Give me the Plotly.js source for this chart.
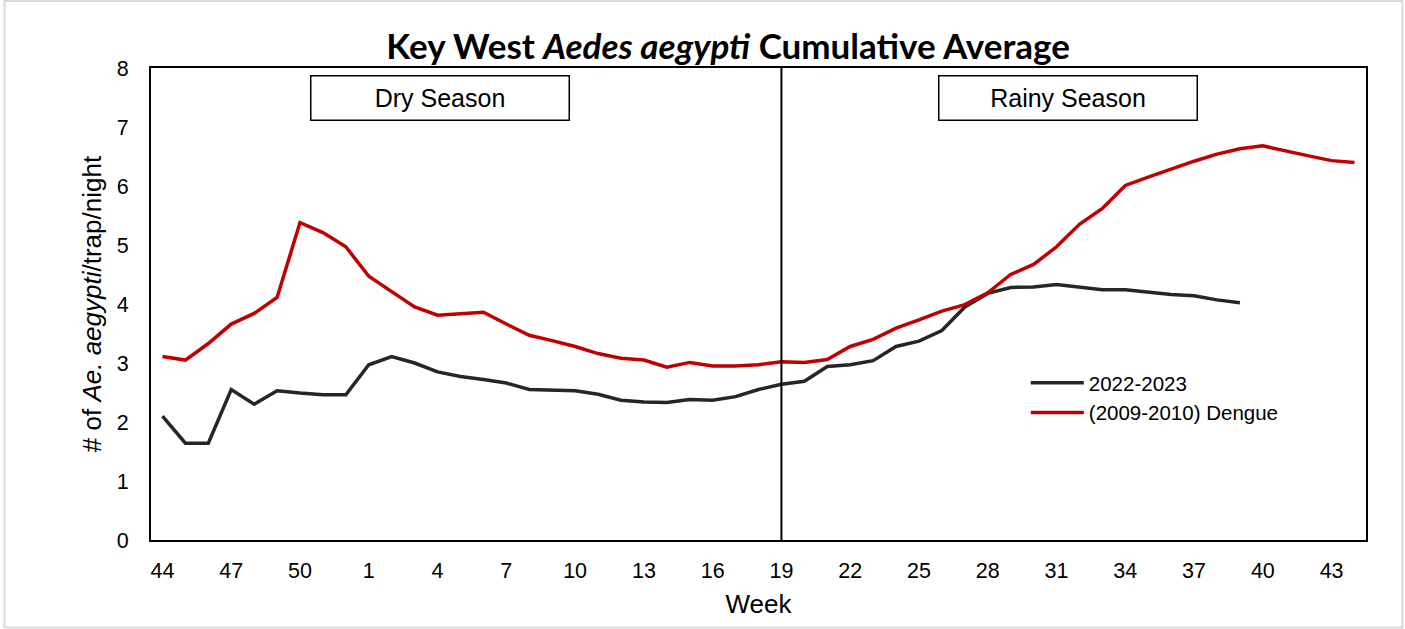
<!DOCTYPE html>
<html>
<head>
<meta charset="utf-8">
<script src="https://cdn.plot.ly/plotly-3.0.1.min.js"></script>
<style>html,body{margin:0;padding:0;background:#fff;}#chart{width:1405px;height:629px;}</style>
</head>
<body>
<div id="chart"></div>
<script>
// Week labels (week 44 of one year through week 44 of the next)
const weeks = ["44","45","46","47","48","49","50","51","52",
  "1","2","3","4","5","6","7","8","9","10","11","12","13","14","15","16","17","18","19","20",
  "21","22","23","24","25","26","27","28","29","30","31","32","33","34","35","36","37","38","39","40",
  "41","42","43","44"];

const series2022Name = "2022-2023";
const series2022 = [2.10,1.64,1.64,2.55,2.30,2.53,2.49,2.46,2.46,2.97,
  3.11,3.00,2.85,2.77,2.72,2.66,2.55,2.54,2.53,2.47,
  2.37,2.34,2.33,2.38,2.37,2.43,2.55,2.64,2.69,2.94,
  2.97,3.04,3.28,3.37,3.55,3.95,4.18,4.28,4.29,4.33,
  4.28,4.24,4.24,4.20,4.16,4.14,4.07,4.02];

const seriesDengueName = "(2009-2010) Dengue";
const seriesDengue = [3.11,3.05,3.33,3.66,3.84,4.11,5.38,5.21,4.97,4.47,
  4.21,3.95,3.81,3.84,3.86,3.66,3.47,3.38,3.28,3.16,
  3.08,3.05,2.93,3.01,2.95,2.95,2.97,3.02,3.01,3.06,
  3.28,3.40,3.59,3.73,3.88,3.99,4.19,4.50,4.67,4.97,
  5.35,5.62,6.01,6.15,6.29,6.42,6.54,6.63,6.68,6.59,
  6.51,6.43,6.40];

const tickIdx = [0,3,6,9,12,15,18,21,24,27,30,33,36,39,42,45,48,51];
const seasonSplitIndex = 27; // week 19

const idx = weeks.map((w,i)=>i);

const traces = [
  {x: idx.slice(0, series2022.length), y: series2022, name: series2022Name, type:"scatter", mode:"lines",
   line:{color:"#262626", width:3.5}},
  {x: idx.slice(0, seriesDengue.length), y: seriesDengue, name: seriesDengueName, type:"scatter", mode:"lines",
   line:{color:"#c00000", width:3.5}}
];

const arial = "Liberation Sans, Arial, sans-serif";
const tickFont = {family:arial, size:21.5, color:"#000"};

const layout = {
  width:1405, height:629,
  margin:{l:151, r:39, t:68, b:89},
  paper_bgcolor:"#fff", plot_bgcolor:"#fff",
  title:{text:"Key West <i>Aedes aegypti</i> Cumulative Average",
    font:{family:"Lato, sans-serif", size:35, color:"#000", weight:"bold"},
    x:0.475, xref:"paper", xanchor:"center", y:0.925, yref:"container", yanchor:"middle"},
  xaxis:{range:[-0.5, 52.5], tickvals: tickIdx, ticktext: tickIdx.map(i=>weeks[i]),
    showgrid:false, zeroline:false, showline:true, mirror:true, linecolor:"#000", linewidth:2,
    ticks:"outside", ticklen:10, tickcolor:"rgba(0,0,0,0)", tickfont:tickFont,
    title:{text:"Week", font:{family:arial, size:26, color:"#000"}, standoff:13}},
  yaxis:{range:[0,8], dtick:1, showgrid:false, zeroline:false, showline:true, mirror:true,
    linecolor:"#000", linewidth:2, ticks:"outside", ticklen:16, tickcolor:"rgba(0,0,0,0)", tickfont:tickFont,
    title:{text:"# of <i>Ae. aegypti</i>/trap/night", font:{family:arial, size:26, color:"#000"}, standoff:8}},
  legend:{x:0.72, xanchor:"left", y:0.375, yanchor:"top", bgcolor:"rgba(0,0,0,0)",
    font:{family:arial, size:20.5, color:"#000"}, itemwidth:53, tracegroupgap:0},
  shapes:[
    {type:"line", xref:"x", yref:"paper", x0:seasonSplitIndex, x1:seasonSplitIndex, y0:0, y1:1,
     line:{color:"#000", width:2}},
    {type:"rect", xref:"paper", yref:"paper", x0:-0.1206, x1:1.0300, y0:-0.1856, y1:1.1420,
     line:{color:"#d9d9d9", width:2}, layer:"below"}
  ],
  annotations:[
    {text:"Dry Season", xref:"paper", yref:"paper", x:0.2382, y:0.9374, xanchor:"center", yanchor:"middle",
     showarrow:false, width:257, height:43, borderpad:0, bordercolor:"#000", borderwidth:1.5, bgcolor:"#fff",
     font:{family:arial, size:25, color:"#000"}},
    {text:"Rainy Season", xref:"paper", yref:"paper", x:0.7544, y:0.9374, xanchor:"center", yanchor:"middle",
     showarrow:false, width:257, height:43, borderpad:0, bordercolor:"#000", borderwidth:1.5, bgcolor:"#fff",
     font:{family:arial, size:25, color:"#000"}}
  ]
};

Plotly.newPlot("chart", traces, layout, {displayModeBar:false, staticPlot:true});
</script>
</body>
</html>
